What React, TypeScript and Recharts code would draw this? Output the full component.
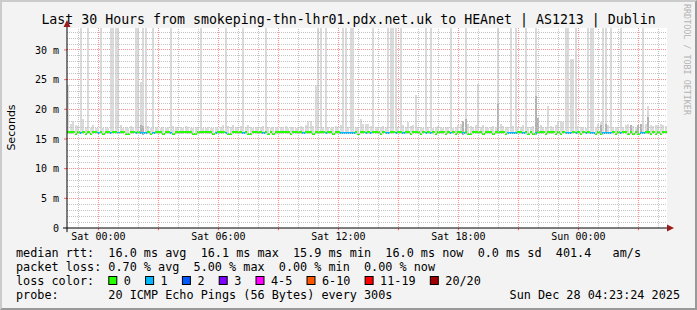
import React from 'react';
import { ComposedChart, Bar, XAxis, YAxis, CartesianGrid, ReferenceLine, ReferenceDot } from 'recharts';

const MONO = '"DejaVu Sans Mono", monospace';

// time axis in hours counted from Sat 00:00, 30 hours shown
const START_HOUR = -1.57;
const END_HOUR = 28.43;
const STEP_HOURS = 0.125; // one sample every 7.5 minutes
const Y_TOP = 33.7;

const hourTicks = [0, 6, 12, 18, 24];
const hourLabels = ['Sat 00:00', 'Sat 06:00', 'Sat 12:00', 'Sat 18:00', 'Sun 00:00'];
const majorHours = [0, 3, 6, 9, 12, 15, 18, 21, 24, 27];
const minorHours = [-1, 1, 2, 4, 5, 7, 8, 10, 11, 13, 14, 16, 17, 19, 20, 22, 23, 25, 26, 28];

const msTicks = [0, 5, 10, 15, 20, 25, 30];
const msLabels = ['0', '5 m', '10 m', '15 m', '20 m', '25 m', '30 m'];
const majorMs = [5, 10, 15, 20, 25, 30];
const minorMs = [1, 2, 3, 4, 6, 7, 8, 9, 11, 12, 13, 14, 16, 17, 18, 19, 21, 22, 23, 24, 26, 27, 28, 29, 31, 32, 33];

// 240 samples, values in ms
const rttMedian = [
  16.1, 16.1, 16.1, 15.9, 16.1, 16.0, 16.1, 15.9, 16.1, 15.9, 16.1, 16.1, 16.0, 16.1, 15.9, 16.1, 16.1, 16.0, 16.1, 16.1,
  16.0, 16.1, 16.1, 15.9, 15.9, 16.1, 16.1, 16.0, 16.1, 16.0, 16.0, 16.0, 16.1, 15.9, 16.0, 16.1, 16.1, 16.1, 15.9, 16.1,
  16.1, 16.0, 15.9, 16.1, 16.1, 16.1, 16.1, 16.1, 16.1, 16.1, 15.9, 15.9, 16.1, 16.1, 16.1, 16.1, 16.1, 16.1, 15.9, 16.0,
  16.1, 16.1, 16.1, 16.0, 15.9, 15.9, 16.1, 16.1, 16.1, 16.1, 16.0, 16.1, 15.9, 15.9, 16.1, 16.1, 16.1, 16.1, 16.0, 16.1,
  15.9, 16.1, 15.9, 16.1, 16.1, 16.1, 16.1, 16.1, 16.1, 15.9, 16.1, 16.1, 16.1, 16.1, 16.0, 16.1, 16.1, 16.1, 15.9, 16.1,
  16.1, 16.1, 16.1, 16.0, 16.1, 16.1, 15.9, 16.1, 16.1, 16.0, 16.0, 16.0, 16.0, 16.0, 16.0, 16.1, 15.9, 16.1, 16.1, 16.0,
  16.1, 16.0, 16.1, 16.1, 16.1, 15.9, 16.1, 16.0, 16.0, 16.1, 16.1, 16.0, 16.1, 16.1, 16.0, 16.1, 16.1, 15.9, 16.1, 16.1,
  16.1, 15.9, 16.1, 16.0, 16.1, 16.0, 16.1, 15.9, 16.1, 16.1, 16.1, 15.9, 16.1, 16.0, 16.1, 15.9, 16.1, 16.1, 16.0, 16.1,
  15.9, 15.9, 16.1, 16.1, 16.1, 16.1, 15.9, 16.1, 16.1, 16.1, 15.9, 16.1, 16.1, 16.1, 16.1, 15.9, 16.0, 16.0, 16.0, 16.0,
  16.1, 16.1, 16.0, 16.1, 15.9, 16.1, 15.9, 16.0, 16.1, 16.1, 16.1, 15.9, 16.1, 16.1, 16.1, 15.9, 16.1, 15.9, 16.1, 16.0,
  16.0, 16.0, 16.1, 16.0, 16.1, 15.9, 16.1, 16.0, 16.1, 16.0, 16.0, 15.9, 16.1, 15.9, 16.0, 16.0, 16.0, 16.0, 16.1, 15.9,
  16.1, 16.0, 16.1, 16.1, 15.9, 16.1, 15.9, 16.1, 15.9, 16.0, 16.0, 16.1, 16.1, 15.9, 16.1, 15.9, 16.1, 15.9, 16.1, 16.1,
];

// lost pings out of 20 per sample
const lossCount = [
  0, 0, 0, 0, 0, 1, 0, 0, 0, 0, 0, 0, 1, 0, 0, 0, 0, 1, 0, 0,
  1, 0, 0, 0, 0, 0, 0, 1, 0, 1, 1, 1, 0, 0, 1, 0, 0, 0, 0, 0,
  0, 1, 0, 0, 0, 0, 0, 0, 0, 0, 0, 0, 0, 0, 0, 0, 0, 0, 0, 1,
  0, 0, 0, 1, 0, 0, 0, 0, 0, 0, 1, 0, 0, 0, 0, 0, 0, 0, 1, 0,
  0, 0, 0, 0, 0, 0, 0, 0, 0, 0, 0, 0, 0, 0, 1, 0, 0, 0, 0, 0,
  0, 0, 0, 1, 0, 0, 0, 0, 0, 1, 1, 1, 1, 1, 1, 0, 0, 0, 0, 1,
  0, 1, 0, 0, 0, 0, 0, 1, 1, 0, 0, 1, 0, 0, 1, 0, 0, 0, 0, 0,
  0, 0, 0, 1, 0, 1, 0, 0, 0, 0, 0, 0, 0, 1, 0, 0, 0, 0, 1, 0,
  0, 0, 0, 0, 0, 0, 0, 0, 0, 0, 0, 0, 0, 0, 0, 0, 1, 1, 1, 1,
  0, 0, 1, 0, 0, 0, 0, 1, 0, 0, 0, 0, 0, 0, 0, 0, 0, 0, 0, 1,
  1, 1, 0, 1, 0, 0, 0, 1, 0, 1, 1, 0, 0, 0, 1, 1, 1, 1, 0, 0,
  0, 1, 0, 0, 0, 0, 0, 0, 0, 1, 1, 0, 0, 0, 0, 0, 0, 0, 0, 0,
];

// lowest ping per sample
const rttLow = [
  15.8, 15.9, 15.8, 15.7, 15.9, 15.8, 15.9, 15.8, 15.9, 15.8, 15.9, 15.9, 15.8, 15.9, 15.8, 15.9, 15.9, 15.8, 15.9, 15.9,
  15.9, 15.8, 15.9, 15.9, 15.8, 15.9, 15.9, 15.8, 15.9, 15.8, 15.7, 15.8, 15.9, 15.9, 15.8, 15.9, 15.9, 15.8, 15.9, 15.9,
  15.9, 15.8, 15.9, 15.9, 15.9, 15.8, 15.9, 15.9, 15.9, 15.8, 15.9, 15.9, 15.9, 15.8, 15.9, 15.9, 15.9, 15.9, 15.8, 15.9,
  15.9, 15.9, 15.8, 15.9, 15.9, 15.9, 15.8, 15.9, 15.9, 15.9, 15.8, 15.9, 15.9, 15.9, 15.9, 15.8, 15.9, 15.9, 15.8, 15.9,
  15.9, 15.9, 15.8, 15.9, 15.9, 15.9, 15.9, 15.8, 15.9, 15.9, 15.9, 15.8, 15.9, 15.9, 15.9, 15.9, 15.8, 15.8, 15.9, 15.8,
  15.9, 15.8, 15.9, 15.8, 15.9, 15.9, 15.8, 15.9, 15.9, 15.8, 15.8, 15.9, 15.8, 15.9, 15.8, 15.9, 15.9, 15.8, 15.9, 15.8,
  15.8, 15.9, 15.9, 15.8, 15.9, 15.9, 15.9, 15.8, 15.9, 15.8, 15.9, 15.9, 15.9, 15.8, 15.9, 15.9, 15.8, 15.9, 15.9, 15.9,
  15.9, 15.9, 15.8, 15.9, 15.9, 15.8, 15.9, 15.9, 15.9, 15.9, 15.8, 15.9, 15.9, 15.8, 15.9, 15.9, 15.9, 15.8, 15.7, 15.8,
  15.8, 15.9, 15.9, 15.8, 15.9, 15.9, 15.9, 15.9, 15.8, 15.9, 15.9, 15.9, 15.8, 15.9, 15.9, 15.9, 15.8, 15.9, 15.8, 15.9,
  15.9, 15.9, 15.8, 15.9, 15.9, 15.9, 15.9, 15.7, 15.8, 15.9, 15.9, 15.9, 15.8, 15.9, 15.9, 15.9, 15.8, 15.9, 15.9, 15.8,
  15.8, 15.8, 15.9, 15.8, 15.9, 15.9, 15.9, 15.8, 15.9, 15.8, 15.9, 15.9, 15.8, 15.8, 15.7, 15.8, 15.9, 15.8, 15.9, 15.9,
  15.9, 15.8, 15.9, 15.9, 15.9, 15.8, 15.9, 15.9, 15.8, 15.8, 15.8, 15.9, 15.8, 15.9, 15.9, 15.8, 15.9, 15.9, 15.8, 15.9,
];

// upper edge of the smoke per sample
const rttHigh = [
  17.6, 17.5, 18.1, 17.4, 17.2, 17.3, 18.4, 17.0, 17.2, 16.9, 17.3, 16.8, 16.9, 17.0, 16.8, 17.1, 16.9, 17.2, 17.0, 17.1,
  16.9, 17.3, 16.8, 17.0, 16.8, 17.2, 17.1, 17.3, 17.6, 17.8, 17.5, 17.4, 17.2, 16.9, 17.0, 17.1, 16.8, 16.9, 17.0, 16.8,
  17.0, 17.9, 17.2, 17.0, 16.9, 17.1, 16.8, 17.2, 17.0, 16.9, 16.8, 17.1, 17.0, 17.3, 16.9, 16.8, 17.0, 16.9, 16.8, 17.0,
  16.9, 17.0, 17.3, 17.1, 17.2, 17.0, 17.4, 17.1, 16.9, 17.2, 17.0, 17.1, 17.3, 17.0, 16.8, 17.1, 16.9, 17.0, 17.2, 17.1,
  17.0, 16.8, 17.1, 17.0, 16.9, 17.1, 17.0, 17.2, 16.9, 17.0, 17.1, 16.8, 17.0, 17.2, 17.0, 17.3, 18.1, 18.0, 17.2, 17.4,
  17.3, 17.2, 17.0, 17.4, 17.1, 16.9, 17.0, 17.2, 17.1, 17.3, 17.2, 17.4, 17.1, 17.3, 17.2, 17.0, 17.1, 18.4, 17.5, 17.6,
  17.6, 17.2, 17.0, 17.1, 16.9, 17.0, 17.2, 17.0, 17.1, 17.3, 17.0, 17.2, 17.0, 17.1, 17.3, 17.0, 17.8, 17.2, 17.4, 17.5,
  17.0, 17.1, 16.9, 17.2, 17.0, 17.1, 16.9, 17.0, 17.2, 17.1, 16.9, 17.0, 17.1, 17.2, 16.9, 17.0, 17.3, 17.5, 18.0, 18.4,
  17.5, 17.2, 17.0, 17.4, 17.6, 17.1, 17.3, 17.0, 16.9, 17.1, 17.2, 17.0, 17.5, 17.6, 17.2, 17.1, 17.0, 17.3, 17.2, 17.4,
  17.1, 17.0, 17.3, 17.2, 17.0, 17.1, 17.2, 18.6, 18.0, 17.3, 17.1, 17.0, 17.4, 17.2, 17.1, 17.3, 18.1, 18.0, 17.8, 17.4,
  17.2, 17.3, 17.1, 17.0, 17.2, 17.1, 17.0, 16.9, 17.2, 17.1, 17.3, 17.0, 17.6, 17.9, 17.8, 17.5, 17.4, 17.2, 17.1, 17.0,
  17.1, 17.2, 17.0, 17.3, 17.5, 17.4, 17.2, 17.0, 17.3, 17.4, 17.6, 17.5, 17.8, 17.4, 17.2, 17.3, 17.4, 17.5, 17.3, 17.2,
];

// [sample, slowest ping ms] for the tall outliers
const spikeMax: [number, number][] = [
  [0, 24.1], [5, 60], [8, 60], [13, 60], [17, 60], [18, 60], [19, 60], [20, 60], [27, 60], [28, 60],
  [29, 24.6], [30, 60], [31, 60], [34, 60], [41, 60], [53, 60], [63, 60], [70, 60], [79, 60], [99, 24.1],
  [100, 60], [101, 60], [103, 60], [110, 60], [111, 60], [113, 60], [114, 60], [122, 60], [128, 60], [129, 60],
  [130, 60], [131, 60], [133, 60], [139, 22.4], [143, 60], [145, 60], [153, 60], [159, 60], [164, 24.3], [172, 60],
  [177, 60], [179, 60], [183, 60], [187, 60], [192, 20.6], [199, 60], [200, 60], [201, 28.5], [202, 28.5], [203, 60],
  [208, 60], [209, 60], [210, 60], [214, 60], [215, 60], [217, 60], [221, 60], [230, 60], [232, 20.6],
];

// [sample, top ms] where the inner pings are denser
const darkSmoke: [number, number][] = [
  [29, 17.4], [30, 17.2], [158, 18.0], [159, 18.3], [172, 20.9], [187, 22.3], [188, 18.5],
  [213, 17.4], [215, 17.5], [225, 17.3], [228, 17.4], [229, 17.6], [232, 18.7],
];

const lossBins = ['0', '1', '2', '3', '4-5', '6-10', '11-19', '20/20'];
const lossBinColors = ['#26ff00', '#00b8ff', '#0059ff', '#7e00ff', '#ff00ff', '#ff5500', '#ff0000', '#a10000'];

const titleText = 'Last 30 Hours from smokeping-thn-lhr01.pdx.net.uk to HEAnet | AS1213 | Dublin';
const rttText = 'median rtt:  16.0 ms avg  16.1 ms max  15.9 ms min  16.0 ms now  0.0 ms sd  401.4   am/s';
const lossText = 'packet loss: 0.70 % avg  5.00 % max  0.00 % min  0.00 % now';
const probeText = 'probe:       20 ICMP Echo Pings (56 Bytes) every 300s';
const stampText = 'Sun Dec 28 04:23:24 2025';

const binOf = (loss: number) => {
  if (loss <= 3) return loss;
  if (loss <= 5) return 4;
  if (loss <= 10) return 5;
  if (loss <= 19) return 6;
  return 7;
};

const rows = rttMedian.map((med, i) => {
  const spike = spikeMax.find(s => s[0] === i);
  const dark = darkSmoke.find(s => s[0] === i);
  return {
    i,
    t: START_HOUR + (i + 0.5) * STEP_HOURS,
    med,
    loss: lossCount[i],
    lo: rttLow[i],
    top: spike ? Math.max(spike[1], rttHigh[i]) : rttHigh[i],
    dark: dark ? dark[1] : rttLow[i],
  };
});

const MedianCap = (props: any) => {
  const { x, y, width, payload } = props;
  if (y == null || isNaN(y)) return null;
  return <rect x={x} y={y - 1} width={width + 0.4} height={2} fill={lossBinColors[binOf(payload.loss)]} shapeRendering="crispEdges" />;
};

const ArrowRight = (p: any) => (
  <polygon points={`${p.cx},${p.cy} ${p.cx - 7},${p.cy - 3.5} ${p.cx - 7},${p.cy + 3.5}`} fill="#9b1b1b" />
);
const ArrowUp = (p: any) => (
  <polygon points={`${p.cx},${p.cy} ${p.cx - 3.5},${p.cy + 7} ${p.cx + 3.5},${p.cy + 7}`} fill="#9b1b1b" />
);

const CW = 7.1; // legend character advance
const LX = 16;

const LossLegend = ({ y }: { y: number }) => {
  let x = LX + 13 * CW;
  const items = lossBins.map((label, k) => {
    const bx = x;
    const tx = bx + 8.4 + CW;
    x = tx + label.length * CW + 2 * CW;
    return (
      <g key={label}>
        <rect x={bx + 0.5} y={y - 8.5} width={8} height={8} fill={lossBinColors[k]} stroke="#000" strokeWidth={1} />
        <text x={tx} y={y}>{label}</text>
      </g>
    );
  });
  return (
    <g>
      <text x={LX} y={y}>loss color:</text>
      {items}
    </g>
  );
};

const App: React.FC = () => {
  return (
    <div style={{ position: 'absolute', left: 0, top: 0, width: 697, height: 310, background: '#f3f3f3', overflow: 'hidden' }}>
      <ComposedChart
        width={697}
        height={310}
        data={rows}
        margin={{ top: 28, right: 30, bottom: 52, left: 17 }}
        barGap={0}
        barCategoryGap={0}
      >
        <CartesianGrid
          xAxisId="time"
          fill="#ffffff"
          stroke="#ff9090"
          strokeDasharray="1 1"
          shapeRendering="crispEdges"
          verticalValues={majorHours}
          horizontalValues={majorMs}
        />
        <XAxis
          xAxisId="time"
          type="number"
          dataKey="t"
          domain={[START_HOUR, END_HOUR]}
          allowDataOverflow
          ticks={hourTicks}
          interval={0}
          tickFormatter={(v: number) => hourLabels[hourTicks.indexOf(v)]}
          height={30}
          tickSize={3}
          tickMargin={2}
          axisLine={false}
          tickLine={false}
          tick={{ fontFamily: MONO, fontSize: 10, fill: '#000' }}
        />
        <XAxis xAxisId="smoke" dataKey="i" hide height={0} />
        <XAxis xAxisId="dark" dataKey="i" hide height={0} />
        <XAxis xAxisId="med" dataKey="i" hide height={0} />
        <YAxis
          domain={[0, Y_TOP]}
          allowDataOverflow
          ticks={msTicks}
          interval={0}
          tickFormatter={(v: number) => msLabels[msTicks.indexOf(v)]}
          width={50}
          axisLine={false}
          tickLine={false}
          tick={{ fontFamily: MONO, fontSize: 10, fill: '#000' }}
        />
        <Bar xAxisId="smoke" dataKey={(d: any) => [d.lo, d.top]} fill="#dadada" barSize={2.5} shapeRendering="crispEdges" isAnimationActive={false} />
        <Bar xAxisId="dark" dataKey={(d: any) => [d.lo, d.dark]} fill="#b2b2b2" barSize={2.5} shapeRendering="crispEdges" isAnimationActive={false} />
        <Bar xAxisId="med" dataKey="med" barSize={2.5} shape={MedianCap} isAnimationActive={false} />
        {minorHours.map(h => (
          <ReferenceLine key={`vh${h}`} xAxisId="time" x={h} stroke="#c4c4c4" strokeDasharray="1 1" shapeRendering="crispEdges" />
        ))}
        {minorMs.map(v => (
          <ReferenceLine key={`hm${v}`} xAxisId="time" y={v} stroke="#c4c4c4" strokeDasharray="1 1" shapeRendering="crispEdges" />
        ))}
        {majorHours.map(h => (
          <ReferenceLine key={`xt${h}`} xAxisId="time" ifOverflow="visible" stroke="#ff6060" segment={[{ x: h, y: 0 }, { x: h, y: -0.4 }]} />
        ))}
        {majorMs.map(v => (
          <ReferenceLine key={`yt${v}`} xAxisId="time" ifOverflow="visible" stroke="#ff6060" segment={[{ x: START_HOUR - 0.15, y: v }, { x: START_HOUR, y: v }]} />
        ))}
        <ReferenceLine xAxisId="time" ifOverflow="visible" stroke="#000" segment={[{ x: START_HOUR - 0.2, y: 0 }, { x: END_HOUR + 0.2, y: 0 }]} />
        <ReferenceLine xAxisId="time" ifOverflow="visible" stroke="#000" segment={[{ x: START_HOUR, y: -0.7 }, { x: START_HOUR, y: Y_TOP + 0.8 }]} />
        <ReferenceDot xAxisId="time" ifOverflow="visible" x={END_HOUR + 0.35} y={0} shape={ArrowRight} />
        <ReferenceDot xAxisId="time" ifOverflow="visible" x={START_HOUR} y={Y_TOP + 1.35} shape={ArrowUp} />
      </ComposedChart>

      <svg width={697} height={310} style={{ position: 'absolute', left: 0, top: 0, pointerEvents: 'none' }}>
        <text x={348.5} y={23.5} textAnchor="middle" fontFamily={MONO} fontSize={13.25} fill="#000" xmlSpace="preserve">
          {titleText}
        </text>
        <text
          transform="translate(14.5,127.5) rotate(-90)"
          textAnchor="middle"
          fontFamily='"DejaVu Sans", sans-serif'
          fontSize={11}
          fill="#000"
        >
          Seconds
        </text>
        <text
          transform="translate(683.5,4) rotate(90)"
          fontFamily={MONO}
          fontSize={8.4}
          fill="#b4b4b4"
        >
          RRDTOOL / TOBI OETIKER
        </text>
        <g fontFamily={MONO} fontSize={11.8} fill="#000" style={{ whiteSpace: 'pre' }}>
          <text x={LX} y={257} xmlSpace="preserve">{rttText}</text>
          <text x={LX} y={271} xmlSpace="preserve">{lossText}</text>
          <LossLegend y={285} />
          <text x={LX} y={299} xmlSpace="preserve">{probeText}</text>
          <text x={680} y={299} textAnchor="end">{stampText}</text>
        </g>
      </svg>

      <div
        style={{
          position: 'absolute',
          inset: 0,
          boxSizing: 'border-box',
          borderTop: '2px solid #cbcbcb',
          borderLeft: '2px solid #cbcbcb',
          borderRight: '2px solid #999999',
          borderBottom: '2px solid #999999',
          pointerEvents: 'none',
        }}
      />
    </div>
  );
};

export default App;
